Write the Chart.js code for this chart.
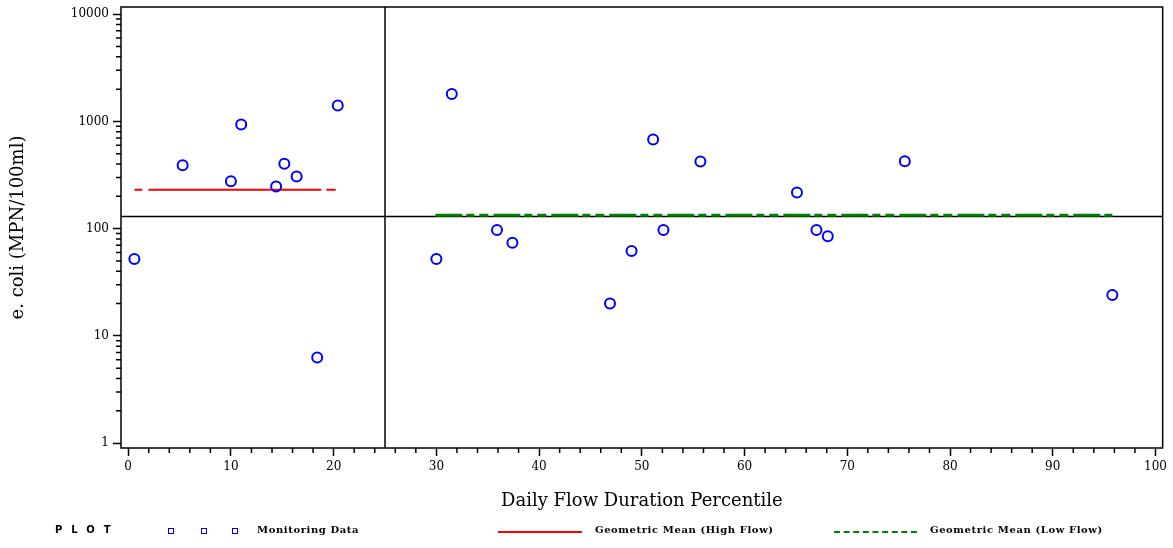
<!DOCTYPE html>
<html>
<head>
<meta charset="utf-8">
<script src="https://cdn.jsdelivr.net/npm/chart.js@4.4.0/dist/chart.umd.min.js"></script>
<style>
  html, body { margin: 0; padding: 0; background: #fff; }
  #wrap { position: relative; width: 1173px; height: 548px; }
  #legend { position: absolute; left: 0; top: 523px; width: 1173px; height: 18px; }
  #legend .txt { position: absolute; top: 1px; font: bold 10px "DejaVu Serif"; letter-spacing: 0.6px; color: #000; white-space: nowrap; }
  #legend .sq { position: absolute; top: 5px; width: 4px; height: 4px; border: 1.5px solid #0000ff; }
  #legend .ln { position: absolute; top: 8px; height: 0; }
</style>
</head>
<body>
<div id="wrap">
  <canvas id="chart" width="1173" height="548"></canvas>
  <div id="legend">
    <div class="txt" style="left:55px; letter-spacing:9px; font-family:'DejaVu Sans';">PLOT</div>
    <div class="sq" style="left:168px"></div>
    <div class="sq" style="left:201px"></div>
    <div class="sq" style="left:232px"></div>
    <div class="txt" style="left:257px">Monitoring Data</div>
    <div class="ln" style="left:498px; width:84px; border-top:2px solid #ff0000;"></div>
    <div class="txt" style="left:595px">Geometric Mean (High Flow)</div>
    <div class="ln" style="left:834px; width:83px; border-top:2px dashed #008000;"></div>
    <div class="txt" style="left:930px">Geometric Mean (Low Flow)</div>
  </div>
</div>
<script>
// monitoring samples: flow duration percentile vs e. coli
const percentile = [0.6, 5.3, 10.0, 11.0, 14.4, 15.2, 16.4, 18.4, 20.4, 30.0, 31.5, 35.9,
                    37.4, 46.9, 49.0, 51.1, 52.1, 55.7, 65.1, 67.0, 68.1, 75.6, 95.8];
const ecoli = [52, 390, 277, 937, 247, 403, 306, 6.3, 1406, 52, 1806, 97,
               74, 20, 62, 679, 97, 422, 217, 97, 85, 425, 24];

// geometric means
const highFlowX = [0.6, 20.2];
const highFlowMean = 231;
const lowFlowX = [29.9, 96.0];
const lowFlowMean = 133;

// reference lines
const flowSplit = 25;
const criterion = 130;

const xTicks = [0, 10, 20, 30, 40, 50, 60, 70, 80, 90, 100];
const yTicks = [1, 10, 100, 1000, 10000];

const tickFont = { family: 'DejaVu Serif', size: 12, lineHeight: 0.84 };

const framePlugin = {
    id: 'frame',
    beforeDatasetsDraw(chart) {
        const { ctx, chartArea: a, scales: { x, y } } = chart;
        ctx.save();
        ctx.strokeStyle = '#000';
        ctx.lineWidth = 1.5;
        ctx.strokeRect(a.left, a.top, a.right - a.left, a.bottom - a.top);
        const px = x.getPixelForValue(flowSplit);
        const py = y.getPixelForValue(criterion);
        ctx.beginPath();
        ctx.moveTo(px, a.top); ctx.lineTo(px, a.bottom);
        ctx.moveTo(a.left, py); ctx.lineTo(a.right, py);
        ctx.stroke();
        ctx.restore();
    }
};

const minorTicks = {
    id: 'minorTicks',
    afterDraw(chart) {
        const { ctx, chartArea: a, scales: { x, y } } = chart;
        ctx.save();
        ctx.strokeStyle = '#000';
        ctx.lineWidth = 1.5;
        ctx.beginPath();
        for (let v = 2; v < 100; v += 2) {
            if (v % 10 === 0) continue;
            const px = x.getPixelForValue(v);
            ctx.moveTo(px, a.bottom); ctx.lineTo(px, a.bottom + 5);
        }
        for (let d = 1; d < 10000; d *= 10) {
            for (let m = 2; m < 10; m++) {
                const py = y.getPixelForValue(d * m);
                ctx.moveTo(a.left - 5, py); ctx.lineTo(a.left, py);
            }
        }
        ctx.stroke();
        ctx.restore();
    }
};

const ctx = document.getElementById('chart');
const chart = new Chart(ctx, {
    type: 'scatter',
    data: {
        datasets: [{
            label: 'Monitoring Data',
            data: percentile.map((p, i) => ({ x: p, y: ecoli[i] })),
            pointStyle: 'circle',
            pointRadius: 5,
            pointBorderWidth: 2,
            borderColor: '#0000ff',
            backgroundColor: 'rgba(0,0,0,0)'
        }, {
            label: 'Geometric Mean (High Flow)',
            data: highFlowX.map(p => ({ x: p, y: highFlowMean })),
            showLine: true,
            pointRadius: 0,
            borderColor: '#ff0000',
            borderWidth: 2,
            borderDash: [8, 6, 173, 5, 10, 300]
        }, {
            label: 'Geometric Mean (Low Flow)',
            data: lowFlowX.map(p => ({ x: p, y: lowFlowMean })),
            showLine: true,
            pointRadius: 0,
            borderColor: '#008000',
            borderWidth: 3,
            borderDash: [27, 4, 8, 5, 9, 5]
        }]
    },
    options: {
        animation: false,
        responsive: false,
        devicePixelRatio: 1,
        layout: { padding: { top: 3, right: 10, left: 0, bottom: 0 } },
        plugins: {
            legend: { display: false },
            tooltip: { enabled: false }
        },
        scales: {
            x: {
                type: 'linear',
                min: -0.7,
                max: 100.7,
                afterFit: s => { s.height = 100; },
                afterBuildTicks: s => { s.ticks = xTicks.map(v => ({ value: v })); },
                grid: { drawOnChartArea: false, tickLength: 8, color: '#000', tickWidth: 1.5 },
                border: { display: false },
                ticks: { color: '#000', font: tickFont, padding: 6, maxRotation: 0 },
                title: {
                    display: true,
                    text: 'Daily Flow Duration Percentile',
                    color: '#000',
                    font: { family: 'DejaVu Serif', size: 18 },
                    padding: { top: 0, bottom: 36 }
                }
            },
            y: {
                type: 'logarithmic',
                min: 0.9,
                max: 11670,
                afterFit: s => { s.width = 121; s.paddingTop = 0; s.paddingBottom = 0; },
                afterBuildTicks: s => { s.ticks = yTicks.map(v => ({ value: v })); },
                grid: { drawOnChartArea: false, tickLength: 8, color: '#000', tickWidth: 1.5 },
                border: { display: false },
                ticks: { color: '#000', font: tickFont, padding: 4, callback: v => String(v) },
                title: {
                    display: true,
                    text: 'e. coli (MPN/100ml)',
                    color: '#000',
                    font: { family: 'DejaVu Serif', size: 18 },
                    padding: { top: 8, bottom: 0 }
                }
            }
        }
    },
    plugins: [framePlugin, minorTicks]
});
</script>
</body>
</html>
